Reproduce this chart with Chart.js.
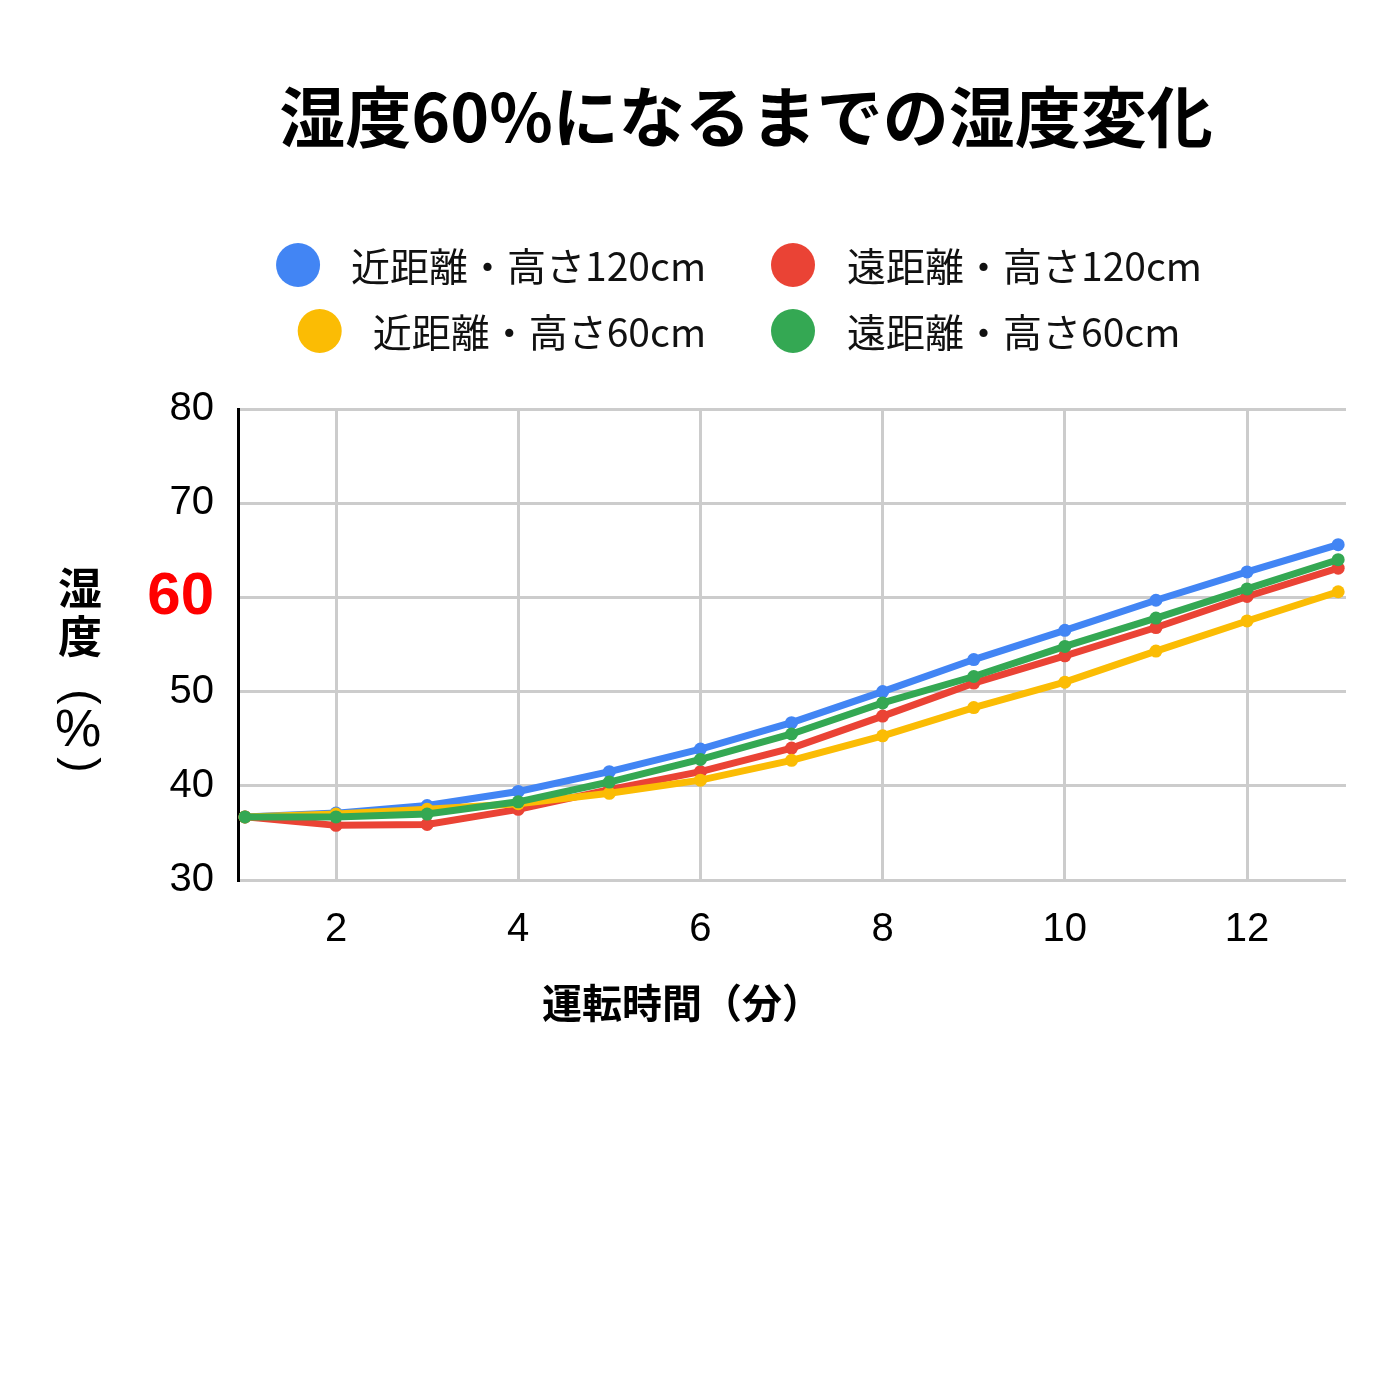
<!DOCTYPE html>
<html lang="ja">
<head>
<meta charset="utf-8">
<title>湿度60%になるまでの湿度変化</title>
<script src="https://cdn.jsdelivr.net/npm/chart.js@4.4.1/dist/chart.umd.min.js"></script>
<style>
  body { margin: 0; background: #fff; }
  canvas { display: block; }
</style>
</head>
<body>
<canvas id="graficoUmidade" width="1400" height="1400"></canvas>
<script>
// dados
const tempos = [1, 2, 3, 4, 5, 6, 7, 8, 9, 10, 11, 12, 13];
const perto120 = [36.7, 37.1, 37.9, 39.4, 41.5, 43.9, 46.7, 50.0, 53.4, 56.5, 59.7, 62.7, 65.6];
const longe120 = [36.7, 35.8, 35.9, 37.5, 39.6, 41.5, 44.0, 47.4, 50.9, 53.8, 56.8, 60.1, 63.1];
const perto60 = [36.7, 37.0, 37.5, 38.1, 39.2, 40.6, 42.7, 45.3, 48.3, 51.0, 54.3, 57.5, 60.6];
const longe60 = [36.7, 36.7, 37.0, 38.3, 40.4, 42.8, 45.5, 48.8, 51.6, 54.8, 57.8, 60.9, 64.0];
const nomes = ['近距離・高さ120cm', '遠距離・高さ120cm', '近距離・高さ60cm', '遠距離・高さ60cm'];
const cores = ['#4285F4', '#EA4335', '#FBBC04', '#34A853'];

const titulo = '湿度60%になるまでの湿度変化';
const tituloX = '運転時間（分）';

const fonteJP = '"Noto Sans CJK JP", "Noto Sans", sans-serif';
const fonteNum = '"Liberation Sans", Arial, sans-serif';

function pontos(valores) {
  return tempos.map((t, i) => ({ x: t, y: valores[i] }));
}

function serie(indice, valores, ordem) {
  return {
    label: nomes[indice],
    data: pontos(valores),
    borderColor: cores[indice],
    backgroundColor: cores[indice],
    borderWidth: 7,
    pointRadius: 6.5,
    pointBorderWidth: 0,
    tension: 0,
    order: ordem
  };
}

// parênteses na vertical (girados 90°)
function parenteseGirado(ctx, texto, x, y) {
  ctx.save();
  ctx.translate(x, y);
  ctx.rotate(Math.PI / 2);
  ctx.fillText(texto, 0, 0);
  ctx.restore();
}

// título, legenda e títulos dos eixos desenhados à mão
const textosExtras = {
  id: 'textosExtras',
  afterDraw(grafico) {
    const ctx = grafico.ctx;
    ctx.save();
    ctx.fillStyle = '#000';
    ctx.textBaseline = 'middle';

    ctx.font = 'bold 66px ' + fonteJP;
    ctx.textAlign = 'center';
    ctx.fillText(titulo, 746, 117);

    // legenda em duas colunas
    ctx.font = '39px ' + fonteJP;
    const linhas = [265, 331];
    grafico.data.datasets.forEach((ds, i) => {
      const y = linhas[Math.floor(i / 2)];
      let xCirculo, xTexto;
      if (i % 2 === 0) {
        const largura = ctx.measureText(ds.label).width;
        xTexto = 706 - largura;
        xCirculo = xTexto - 53;
      } else {
        xCirculo = 793;
        xTexto = 847;
      }
      ctx.fillStyle = ds.borderColor;
      ctx.beginPath();
      ctx.arc(xCirculo, y, 22, 0, Math.PI * 2);
      ctx.fill();
      ctx.fillStyle = '#111';
      ctx.textAlign = 'left';
      ctx.fillText(ds.label, xTexto, y + 1);
    });

    // título do eixo y, vertical
    ctx.fillStyle = '#000';
    ctx.textAlign = 'center';
    ctx.font = 'bold 44px ' + fonteJP;
    ctx.fillText('湿', 80, 588);
    ctx.fillText('度', 80, 636);
    ctx.font = '46px ' + fonteNum;
    parenteseGirado(ctx, '(', 80, 697);
    ctx.font = '52px ' + fonteNum;
    ctx.fillText('%', 78, 732);
    ctx.font = '46px ' + fonteNum;
    parenteseGirado(ctx, ')', 80, 765);

    // título do eixo x
    ctx.font = 'bold 40px ' + fonteJP;
    ctx.textAlign = 'left';
    ctx.fillText(tituloX, 542, 1003);
    ctx.restore();
  }
};

const graficoUmidade = new Chart(document.getElementById('graficoUmidade'), {
  type: 'line',
  data: {
    datasets: [
      serie(0, perto120, 3),
      serie(1, longe120, 2),
      serie(2, perto60, 1),
      serie(3, longe60, 0)
    ]
  },
  options: {
    responsive: false,
    devicePixelRatio: 1,
    animation: false,
    layout: { padding: { top: 409, right: 54, bottom: 0, left: 0 } },
    plugins: {
      legend: { display: false },
      title: { display: false },
      tooltip: { enabled: false }
    },
    scales: {
      x: {
        type: 'linear',
        min: 0.924,
        max: 13.086,
        afterFit: (escala) => { escala.height = 520; },
        ticks: {
          stepSize: 2,
          includeBounds: false,
          padding: 26,
          color: '#000',
          font: { family: fonteNum, size: 40 }
        },
        grid: { color: '#cccccc', lineWidth: 3, drawTicks: false },
        border: { display: false }
      },
      y: {
        min: 30,
        max: 80,
        afterFit: (escala) => { escala.width = 238; },
        ticks: {
          stepSize: 10,
          padding: 24,
          color: (c) => c.tick.value === 60 ? '#ff0000' : '#000',
          font: (c) => c.tick && c.tick.value === 60
            ? { family: fonteNum, size: 60, weight: 'bold' }
            : { family: fonteNum, size: 40 }
        },
        grid: { color: '#cccccc', lineWidth: 3, drawTicks: false },
        border: { color: '#000', width: 3 }
      }
    }
  },
  plugins: [textosExtras]
});
</script>
</body>
</html>
